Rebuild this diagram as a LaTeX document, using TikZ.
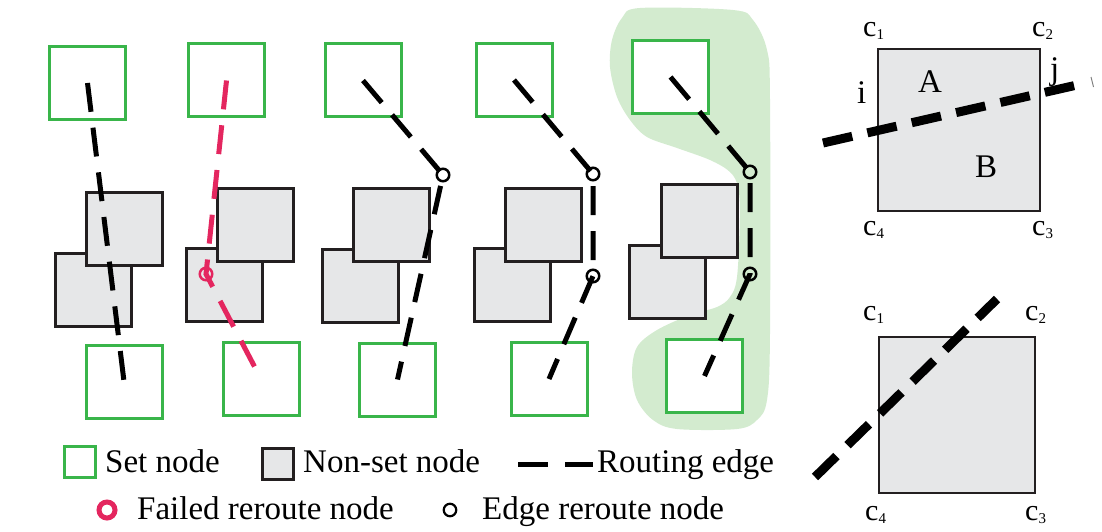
\documentclass[tikz,border=0pt]{standalone}
\usepackage{fontspec}
\setmainfont{Liberation Serif}
\definecolor{setgreen}{RGB}{57,181,74}
\definecolor{failred}{RGB}{228,38,95}
\definecolor{boxgray}{RGB}{230,231,232}
\definecolor{boxblack}{RGB}{35,31,32}
\definecolor{blobgreen}{RGB}{211,235,207}
\newcommand{\cornerlbl}[1]{c\raisebox{-3pt}{\fontsize{15}{16}\selectfont #1}}
\begin{document}
\begin{tikzpicture}[x=1pt,y=-1pt,
  setbox/.style={draw=setgreen, fill=white, line width=3pt, minimum width=76pt, minimum height=73pt, inner sep=0pt},
  nsbox/.style={draw=boxblack, fill=boxgray, line width=3pt, minimum width=76pt, minimum height=73pt, inner sep=0pt},
  route/.style={line width=5pt, dash pattern=on 29pt off 16pt},
  bigroute/.style={line width=9pt, dash pattern=on 30pt off 15.5pt},
  reroute/.style={circle, draw=black, line width=2.5pt, minimum size=12.5pt, inner sep=0pt},
  failnode/.style={circle, draw=failred, line width=2.5pt, minimum size=12.5pt, inner sep=0pt},
  lbl/.style={inner sep=0pt, anchor=base west, font=\fontsize{33}{36}\selectfont},
  clbl/.style={inner sep=0pt, anchor=base west, font=\fontsize{30}{32}\selectfont},
  bigsq/.style={draw=boxblack, fill=boxgray, line width=2.5pt, inner sep=0pt},
]
\useasboundingbox (0,0) rectangle (1102,532);

% green blob
\fill[blobgreen] plot[smooth cycle, tension=0.55] coordinates {
 (640,8) (733,10) (753,20) (767,50) (770,100) (770,333) (767,400) (757,420)
 (737,429) (677,429) (653,420) (637,400) (632,373) (637,347) (657,330)
 (690,315) (717,307) (730,297) (737,277) (740,217) (738,187) (730,172)
 (710,160) (677,148) (647,137) (630,120) (617,97) (610,67) (612,40) (622,18)};

% non-set nodes (lower first, then upper)
\node[nsbox] (G1b) at (93,290) {};
\node[nsbox] (G1a) at (124,229) {};
\node[nsbox] (G2b) at (224.5,285) {};
\node[nsbox] (G2a) at (255.5,225) {};
\node[nsbox] (G3b) at (360.5,285.5) {};
\node[nsbox] (G3a) at (391.5,225) {};
\node[nsbox] (G4b) at (512,285) {};
\node[nsbox] (G4a) at (543.5,225) {};
\node[nsbox] (G5b) at (667.5,282) {};
\node[nsbox] (G5a) at (699.5,221) {};

% set nodes
\node[setbox] (T1) at (87.5,83) {};
\node[setbox] (B1) at (124,381.5) {};
\node[setbox] (T2) at (226.5,80.5) {};
\node[setbox] (B2) at (261,379) {};
\node[setbox] (T3) at (363,80.5) {};
\node[setbox] (B3) at (397.5,379.5) {};
\node[setbox] (T4) at (514,80) {};
\node[setbox] (B4) at (549,379) {};
\node[setbox] (T5) at (670.5,77) {};
\node[setbox] (B5) at (704.5,376) {};

% reroute nodes
\node[failnode] (F2) at (206,274) {};
\node[reroute] (W3) at (443,175) {};
\node[reroute] (W4a) at (593,174) {};
\node[reroute] (W4b) at (593,276) {};
\node[reroute] (W5a) at (750,172) {};
\node[reroute] (W5b) at (750,274) {};

% routing edges
\draw[route] (T1.center) -- (B1.center);
\draw[route, failred] (T2.center) -- (F2.center) -- (B2.center);
\draw[route] (T3.center) -- (W3.center) -- (B3.center);
\draw[route] (T4.center) -- (W4a.center) -- (W4b.center) -- (B4.center);
\draw[route] (T5.center) -- (W5a.center) -- (W5b.center) -- (B5.center);

% right top panel
\node[bigsq, minimum size=162pt] (R1) at (959,130) {};
\coordinate (p1) at (823,143);
\coordinate (p2) at (1077,85);
\draw[bigroute] (p1) -- (p2);
\coordinate (q1) at (1091,77);
\coordinate (q2) at (1093.5,87);
\draw[line width=1pt, gray] (q1) -- (q2);
\node[clbl] (c1a) at (863,37) {\cornerlbl{1}};
\node[clbl] (c2a) at (1032,37) {\cornerlbl{2}};
\node[clbl] (c4a) at (863,235) {\cornerlbl{4}};
\node[clbl] (c3a) at (1032,235) {\cornerlbl{3}};
\node[lbl] (li) at (857,103) {i};
\node[lbl] (lj) at (1050,80) {j};
\node[lbl] (lA) at (918,93) {A};
\node[lbl] (lB) at (975,177) {B};

% right bottom panel
\node[bigsq, minimum size=156pt] (R2) at (957,415) {};
\coordinate (r1) at (815,477);
\coordinate (r2) at (997,299);
\draw[bigroute] (r1) -- (r2);
\node[clbl] (c1b) at (863,320) {\cornerlbl{1}};
\node[clbl] (c2b) at (1025,320) {\cornerlbl{2}};
\node[clbl] (c4b) at (865,520) {\cornerlbl{4}};
\node[clbl] (c3b) at (1025,520) {\cornerlbl{3}};

% legend
\node[draw=setgreen, line width=3pt, minimum size=31pt, inner sep=0pt] (Lset) at (80,462) {};
\node[lbl] (Lsettxt) at (105,472) {Set node};
\node[draw=boxblack, fill=boxgray, line width=3pt, minimum size=31pt, inner sep=0pt] (Lns) at (278,463.5) {};
\node[lbl] (Lnstxt) at (303,472) {Non-set node};
\coordinate (Le1) at (518,464);
\coordinate (Le2) at (593,464);
\draw[line width=5pt, dash pattern=on 30pt off 17pt] (Le1) -- (Le2);
\node[lbl] (Letxt) at (597,472) {Routing edge};
\node[circle, draw=failred, line width=5pt, minimum size=16pt, inner sep=0pt] (Lf) at (107,510) {};
\node[lbl] (Lftxt) at (137,519) {Failed reroute node};
\node[circle, draw=black, line width=2.2pt, minimum size=12.5pt, inner sep=0pt] (Lr) at (450,510) {};
\node[lbl] (Lrtxt) at (482,519) {Edge reroute node};
\end{tikzpicture}
\end{document}
